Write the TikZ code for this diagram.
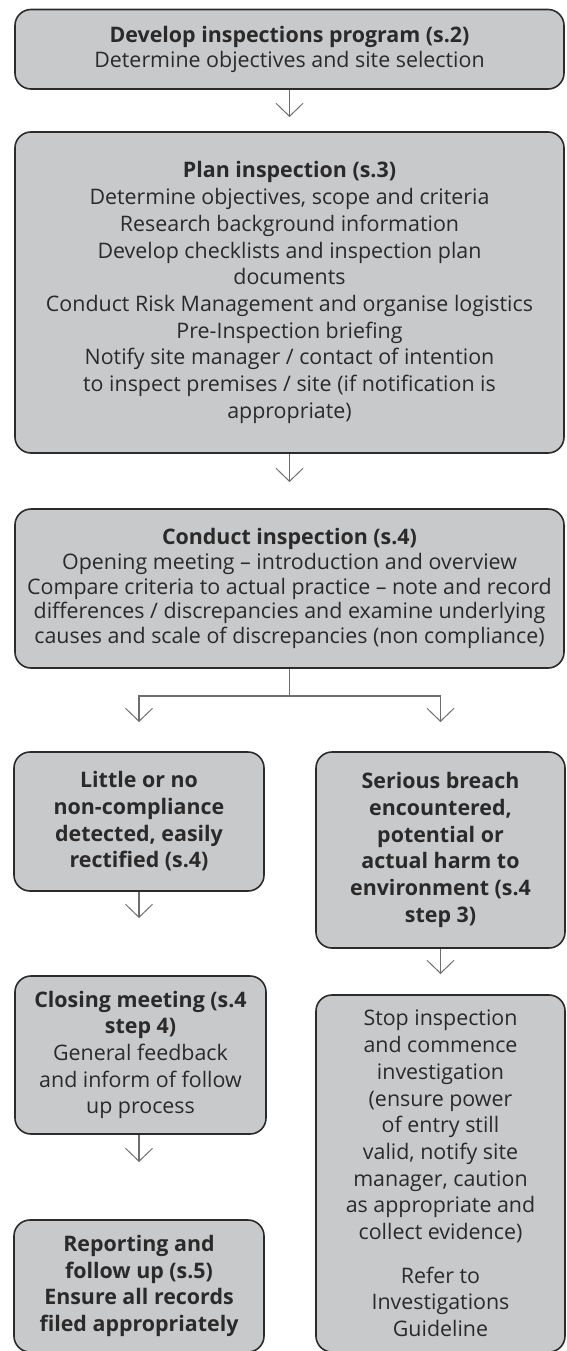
\documentclass[tikz,border=0pt]{standalone}
\usepackage{fontspec}
\setmainfont{Open Sans}
\usetikzlibrary{arrows.meta}
\definecolor{boxfill}{HTML}{C8C9CB}
\definecolor{boxline}{HTML}{2B2B2B}
\definecolor{txt}{HTML}{2A2A2A}
\definecolor{arrowc}{HTML}{6E6E6E}
\begin{document}
\begin{tikzpicture}[x=1pt,y=1pt,
  box/.style={draw=boxline, line width=1.6pt, fill=boxfill, rounded corners=16pt,
    align=center, inner sep=0pt, text=txt, font=\fontsize{21.4}{26.7}\selectfont},
  boldbox/.style={box, font=\fontsize{21.4}{26.7}\selectfont\bfseries},
  arr/.style={draw=arrowc, line width=1.1pt, -{Straight Barb[length=13pt,width=27pt,line width=1pt]}}]
\useasboundingbox (0,0) rectangle (566,-1351);

\node[box, minimum width=549pt, minimum height=79.5pt, font=\fontsize{21.4}{25}\selectfont] (b1) at (289.5,-49.25)
  {\textbf{Develop inspections program (s.2)}\\Determine objectives and site selection};

\node[box, minimum width=549pt, minimum height=321pt] (b2) at (289.5,-292.5)
  {\textbf{Plan inspection (s.3)}\\
   Determine objectives, scope and criteria\\
   Research background information\\
   Develop checklists and inspection plan\\
   documents\\
   Conduct Risk Management and organise logistics\\
   Pre-Inspection briefing\\
   Notify site manager / contact of intention\\
   to inspect premises / site (if notification is\\
   appropriate)};

\node[box, minimum width=549pt, minimum height=159pt, font=\fontsize{21.4}{24.7}\selectfont] (b3) at (289.5,-588.5)
  {\textbf{Conduct inspection (s.4)}\\
   Opening meeting – introduction and overview\\
   Compare criteria to actual practice – note and record\\
   differences / discrepancies and examine underlying\\
   causes and scale of discrepancies (non compliance)};

\node[boldbox, minimum width=250pt, minimum height=139pt] (b4) at (139,-821.5)
  {Little or no\\non-compliance\\detected, easily\\rectified (s.4)};

\node[boldbox, minimum width=249pt, minimum height=196pt] (b5) at (440.5,-850)
  {Serious breach\\encountered,\\potential or\\actual harm to\\environment (s.4\\step 3)};

\node[box, minimum width=251pt, minimum height=158pt] (b6) at (140.5,-1055)
  {\textbf{Closing meeting (s.4}\\\textbf{step 4)}\\General feedback\\and inform of follow\\up process};

\node[boldbox, minimum width=250pt, minimum height=132pt] (b7) at (139,-1286)
  {Reporting and\\follow up (s.5)\\Ensure all records\\filed appropriately};

\node[box, minimum width=249pt, minimum height=357pt] (b8) at (440.5,-1173.5)
  {Stop inspection\\and commence\\investigation\\(ensure power\\of entry still\\valid, notify site\\manager, caution\\as appropriate and\\collect evidence)\\[17pt]
   Refer to\\Investigations\\Guideline};

\coordinate (t1) at (289.5,-117);
\coordinate (t2) at (289.5,-482);
\coordinate (jl) at (139,-696);
\coordinate (jr) at (440.5,-696);
\coordinate (t3l) at (139,-722);
\coordinate (t3r) at (440.5,-722);
\coordinate (t4) at (139,-918);
\coordinate (t5) at (440.5,-974);
\coordinate (t6) at (139,-1162);

\draw[arr] (b1.south) -- (t1);
\draw[arr] (b2.south) -- (t2);
\draw[arr] (b3.south) |- (jl) -- (t3l);
\draw[arr] (b3.south) |- (jr) -- (t3r);
\draw[arr] (b4.south) -- (t4);
\draw[arr] (b5.south) -- (t5);
\draw[arr] (t6 |- b6.south) -- (t6);
\end{tikzpicture}
\end{document}
